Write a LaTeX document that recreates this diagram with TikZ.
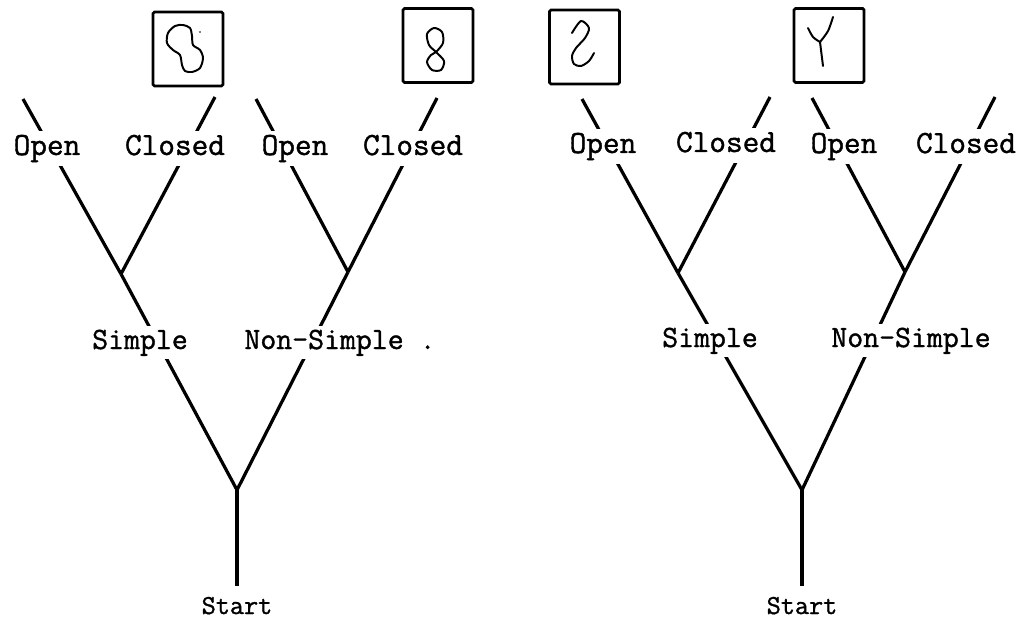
\documentclass[tikz,border=0pt]{standalone}
\usepackage{fontspec}
\setmonofont{Latin Modern Mono}[FakeBold=1.2]
\usepackage{tikz}

\begin{document}
\begin{tikzpicture}[
    x=0.25mm, y=-0.25mm,
    lf/.style={font=\ttfamily\fontsize{23}{26}\selectfont, fill=white, anchor=base,
               text height=14pt, text depth=5pt, inner xsep=2pt, inner ysep=3pt},
    md/.style={lf, font=\ttfamily\fontsize{22}{25}\selectfont,
               text height=13.5pt, text depth=4.7pt, inner ysep=2.6pt},
    rt/.style={font=\ttfamily\fontsize{19.5}{22}\selectfont, anchor=base,
               text height=19pt, text depth=0pt, inner ysep=1pt},
    br/.style={line width=2.3pt},
    cd/.style={draw, line width=1.9pt, rounded corners=1pt, inner sep=0pt,
               minimum width=17.5mm, minimum height=18.5mm},
    gl/.style={line width=1.4pt, line cap=round, line join=round},
  ]
  \useasboundingbox (0,0) rectangle (1026,618);
  % roots
  \node[rt] (startL) at (237,614) {Start};
  \node[rt] (startR) at (802,614) {Start};
  % branch points and free ends
  \coordinate (jL0) at (237,490);
  \coordinate (jL1) at (121,274);
  \coordinate (jL2) at (348,272);
  \coordinate (eOL1) at (23,99);
  \coordinate (eCL1) at (215,97);
  \coordinate (eOL2) at (256,99);
  \coordinate (eCL2) at (437,98);
  \coordinate (jR0) at (802,490);
  \coordinate (jR1) at (678,273);
  \coordinate (jR2) at (905,272);
  \coordinate (eOR1) at (582,99);
  \coordinate (eCR1) at (770,97);
  \coordinate (eOR2) at (812,98);
  \coordinate (eCR2) at (995,97);
  % left tree
  \draw[br] (startL) -- (jL0);
  \draw[br] (jL0) -- (jL1);
  \draw[br] (jL0) -- (jL2);
  \draw[br] (jL1) -- (eOL1);
  \draw[br] (jL1) -- (eCL1);
  \draw[br] (jL2) -- (eOL2);
  \draw[br] (jL2) -- (eCL2);
  % right tree
  \draw[br] (startR) -- (jR0);
  \draw[br] (jR0) -- (jR1);
  \draw[br] (jR0) -- (jR2);
  \draw[br] (jR1) -- (eOR1);
  \draw[br] (jR1) -- (eCR1);
  \draw[br] (jR2) -- (eOR2);
  \draw[br] (jR2) -- (eCR2);
  % labels
  \node[md] (simpL) at (140,349) {Simple};
  \node[md] (nsimpL) at (340,349) {Non-Simple .};
  \node[md] (simpR) at (710,347) {Simple};
  \node[md] (nsimpR) at (911,347) {Non-Simple};
  \node[lf] (openL1) at (47,155) {Open};
  \node[lf] (closL1) at (175,155) {Closed};
  \node[lf] (openL2) at (295,155) {Open};
  \node[lf] (closL2) at (413,155) {Closed};
  \node[lf] (openR1) at (603,153) {Open};
  \node[lf] (closR1) at (726,152) {Closed};
  \node[lf] (openR2) at (844,153) {Open};
  \node[lf] (closR2) at (966,153) {Closed};
  % sample cards
  \node[cd] (card1) at (188,49) {};
  \node[cd] (card2) at (438,45.5) {};
  \node[cd] (card3) at (584.5,47) {};
  \node[cd] (card4) at (829,45.5) {};
  \draw[gl] plot[smooth cycle] coordinates {(183,25) (190,28) (192,36) (193,45)
    (200,50) (203,58) (200,68) (192,72) (185,71) (182,65) (180,55) (173,50)
    (167,43) (168,33) (175,26)};
  \fill (200,32) circle (0.7pt);
  \draw[gl] plot[smooth cycle] coordinates {(434,28) (427,34) (429,45) (436,52)
    (444,61) (441,70) (432,70) (427,62) (431,55) (436,52) (443,43) (442,32)};
  \draw[gl] plot[smooth] coordinates {(572,33) (581,21) (589,28) (585,38)
    (576,48) (572,56) (574,64) (581,66) (589,61) (594,53)};
  \draw[gl] plot[smooth] coordinates {(808,28) (813,37) (820,42)};
  \draw[gl] plot[smooth] coordinates {(833,17) (828,31) (820,42)};
  \draw[gl] (820,42) -- (823,66);
\end{tikzpicture}
\end{document}
